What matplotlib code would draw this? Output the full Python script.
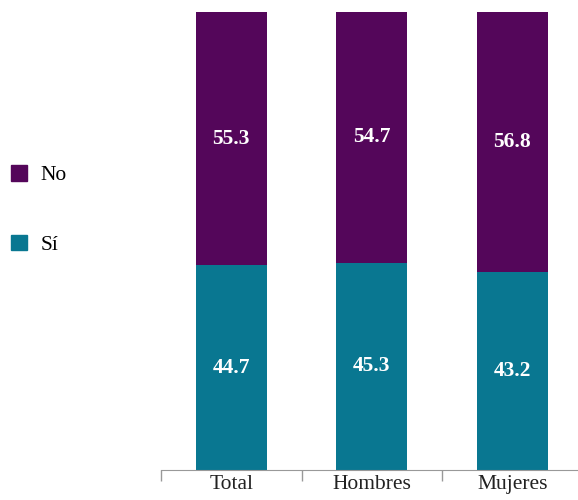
import matplotlib.pyplot as plt
from matplotlib.patches import Patch

categories = ['Total', 'Hombres', 'Mujeres']
si = [44.7, 45.3, 43.2]
no = [55.3, 54.7, 56.8]

c_si = '#097791'
c_no = '#54065a'

plt.rcParams['font.family'] = ['Liberation Serif', 'DejaVu Serif']

fig = plt.figure(figsize=(5.78, 5.0), dpi=100)
ax = fig.add_axes([161 / 578, 30 / 500, 421.5 / 578, 458 / 500])

x = range(len(categories))
ax.bar(x, si, width=0.505, color=c_si)
ax.bar(x, no, width=0.505, bottom=si, color=c_no)

for i in x:
    ax.text(i, si[i] / 2, f'{si[i]:.1f}', ha='center', va='center',
            color='white', fontsize=15.5, fontweight='bold')
    ax.text(i, si[i] + no[i] / 2, f'{no[i]:.1f}', ha='center', va='center',
            color='white', fontsize=15.5, fontweight='bold')

ax.set_xlim(-0.5, 2.5)
ax.set_ylim(0, 100)
ax.set_yticks([])
ax.set_xticks(list(x))
ax.set_xticklabels(categories, fontsize=15.5, color='#222222')
ax.set_xticks([-0.5, 0.5, 1.5, 2.5], minor=True)
ax.tick_params(axis='x', which='major', length=0, pad=3.5)
ax.tick_params(axis='x', which='minor', length=8, color='#999999', width=1)
for s in ['left', 'right', 'top']:
    ax.spines[s].set_visible(False)
ax.spines['bottom'].set_color('#999999')

handles = [Patch(color=c_no, label='No'), Patch(color=c_si, label='Sí')]
fig.legend(handles=handles, loc='center left', bbox_to_anchor=(11 / 578, 0.58),
           frameon=False, fontsize=15.5, handlelength=0.74, handleheight=0.74,
           handletextpad=0.65, labelspacing=2.3, borderpad=0, borderaxespad=0)

fig.savefig('out.png', dpi=100)
